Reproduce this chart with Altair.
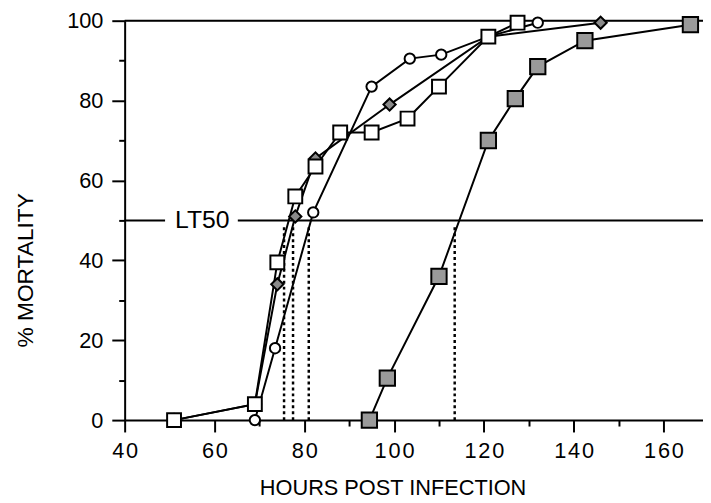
import altair as alt
import pandas as pd

# ---- data ----
circle_x = [69, 73.5, 82, 95, 103.5, 110.5, 121, 132]
circle_y = [0, 18, 52, 83.5, 90.5, 91.5, 96, 99.5]

diamond_x = [51, 69, 74, 78, 82.5, 99, 121, 146]
diamond_y = [0, 4, 34, 51, 65.5, 79, 96, 99.5]

square_x = [51, 69, 74, 78, 82.5, 88, 95, 103, 110, 121, 127.5]
square_y = [0, 4, 39.5, 56, 63.5, 72, 72, 75.5, 83.5, 96, 99.5]

hatched_x = [94.5, 98.5, 110, 121, 127, 132, 142.5, 166]
hatched_y = [0, 10.5, 36, 70, 80.5, 88.5, 95, 99]

lt50_x = [75.5, 77.5, 81, 113.5]

x_ticks = list(range(40, 180, 10))
y_ticks = list(range(0, 110, 10))

X_MIN, X_MAX = 40, 168.8
FONT = "Liberation Sans"

rows = []
for name, xs, ys in [("circle", circle_x, circle_y),
                     ("diamond", diamond_x, diamond_y),
                     ("square", square_x, square_y),
                     ("hatched", hatched_x, hatched_y)]:
    for i, (a, b) in enumerate(zip(xs, ys)):
        rows.append({"series": name, "hours": a, "mort": b, "i": i})
df = pd.DataFrame(rows)

ref = pd.DataFrame({"y": [100, 50, 50], "x1": [X_MIN, X_MIN, 65.2], "x2": [X_MAX, 49.0, X_MAX]})
lt = pd.DataFrame({"x": lt50_x, "y0": [0] * len(lt50_x), "y1": [49] * len(lt50_x)})
lab = pd.DataFrame({"x": [57.3], "y": [50], "t": ["LT50"]})

series_dom = ["circle", "diamond", "square", "hatched"]

xscale = alt.Scale(domain=[X_MIN, X_MAX], nice=False, zero=False)
yscale = alt.Scale(domain=[0, 100], nice=False)

xaxis = alt.Axis(
    values=x_ticks, title="HOURS POST INFECTION",
    labelExpr="datum.value % 20 === 0 ? join(split(datum.label, ''), '\u200a') : ''",
    tickSize={"condition": {"test": "datum.value % 20 === 0", "value": 12}, "value": 6},
    tickColor="black", tickWidth=2, domainColor="black", domainWidth=2,
    labelFont=FONT, labelFontSize=22, labelColor="black", labelPadding=9, labelFlush=False,
    titleFont=FONT, titleFontSize=22, titleFontWeight="normal", titleColor="black",
    titleX=271, titleY=68, titleAnchor="middle", titleBaseline="middle", grid=False,
)
yaxis = alt.Axis(
    values=y_ticks, title="% MORTALITY",
    labelExpr="datum.value % 20 === 0 ? datum.label : ''",
    tickSize={"condition": {"test": "datum.value % 20 === 0", "value": 13}, "value": 6},
    tickColor="black", tickWidth=2, domainColor="black", domainWidth=2,
    labelFont=FONT, labelFontSize=22, labelColor="black", labelPadding=9,
    titleFont=FONT, titleFontSize=23, titleFontWeight="normal", titleColor="black",
    titleX=-100, titleY=252, titleAngle=-90, titleAnchor="middle", titleBaseline="middle", grid=False,
)

lines = alt.Chart(df).mark_line(color="black", strokeWidth=2).encode(
    x=alt.X("hours:Q", scale=xscale, axis=xaxis),
    y=alt.Y("mort:Q", scale=yscale, axis=yaxis),
    detail="series:N",
    order="i:Q",
)

refs = alt.Chart(ref).mark_rule(color="black", strokeWidth=2).encode(
    x=alt.X("x1:Q", scale=xscale), x2="x2:Q", y=alt.Y("y:Q", scale=yscale)
)

dashes = alt.Chart(lt).mark_rule(color="black", strokeWidth=2.5, strokeDash=[3, 3]).encode(
    x=alt.X("x:Q", scale=xscale), y=alt.Y("y0:Q", scale=yscale), y2="y1:Q"
)

label = alt.Chart(lab).mark_text(font=FONT, fontSize=25, color="black", baseline="middle").encode(
    x=alt.X("x:Q", scale=xscale), y=alt.Y("y:Q", scale=yscale), text="t:N"
)

points = alt.Chart(df).mark_point(filled=True, stroke="black", strokeWidth=2, opacity=1).encode(
    x=alt.X("hours:Q", scale=xscale),
    y=alt.Y("mort:Q", scale=yscale),
    shape=alt.Shape("series:N", scale=alt.Scale(domain=series_dom,
                                                range=["circle", "diamond", "square", "square"]), legend=None),
    fill=alt.Fill("series:N", scale=alt.Scale(domain=series_dom,
                                              range=["white", "#8a8a8a", "white", "#9a9a9a"]), legend=None),
    size=alt.Size("series:N", scale=alt.Scale(domain=series_dom, range=[110, 240, 135, 135]), legend=None),
)

chart = alt.layer(refs, dashes, label, lines, points).properties(
    width=585, height=404,
    padding={"left": 118, "top": 10, "right": 0, "bottom": 80},
    autosize=alt.AutoSizeParams(type="none"),
).configure_view(stroke=None).configure(background="white")

chart.save("out.html", embed_options={"renderer": "svg", "actions": False})
